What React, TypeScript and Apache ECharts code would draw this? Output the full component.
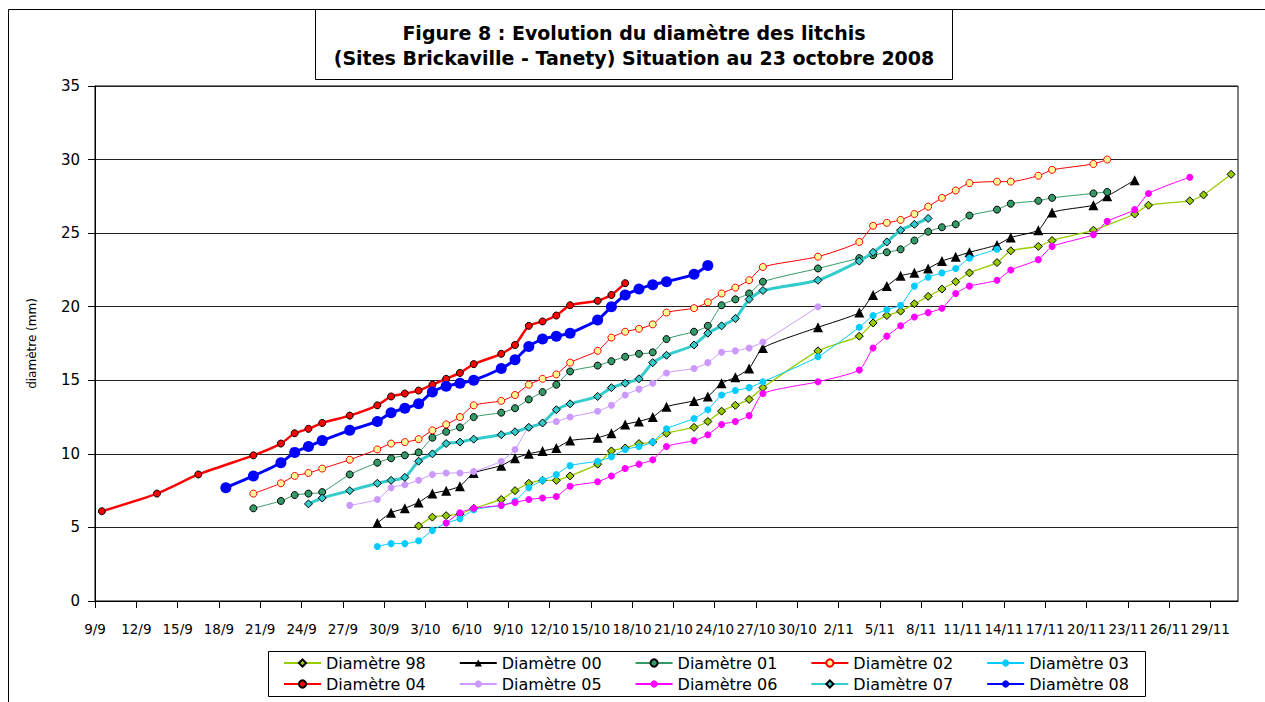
import React, { useEffect, useRef } from "react";
import * as echarts from "echarts";

// ---- data: [date (d/m, 2008), diameter in mm] ----
const d98: [string, number][] = [["2/10",5.1],["3/10",5.7],["4/10",5.8],["5/10",5.9],["6/10",6.3],["8/10",6.9],["9/10",7.5],["10/10",8.0],["11/10",8.2],["12/10",8.2],["13/10",8.5],["15/10",9.3],["16/10",10.2],["17/10",10.4],["18/10",10.7],["19/10",10.8],["20/10",11.4],["22/10",11.8],["23/10",12.2],["24/10",12.9],["25/10",13.3],["26/10",13.7],["27/10",14.5],["31/10",17.0],["3/11",18.0],["4/11",18.9],["5/11",19.4],["6/11",19.7],["7/11",20.2],["8/11",20.7],["9/11",21.2],["10/11",21.7],["11/11",22.3],["13/11",23.0],["14/11",23.8],["16/11",24.1],["17/11",24.5],["20/11",25.2],["23/11",26.3],["24/11",26.9],["27/11",27.2],["28/11",27.6],["30/11",29.0]];
const d00: [string, number][] = [["29/9",5.3],["30/9",6.0],["1/10",6.3],["2/10",6.7],["3/10",7.3],["4/10",7.5],["5/10",7.8],["6/10",8.7],["8/10",9.2],["9/10",9.7],["10/10",10.0],["11/10",10.2],["12/10",10.4],["13/10",10.9],["15/10",11.1],["16/10",11.4],["17/10",12.0],["18/10",12.2],["19/10",12.5],["20/10",13.2],["22/10",13.6],["23/10",13.9],["24/10",14.8],["25/10",15.2],["26/10",15.8],["27/10",17.2],["31/10",18.6],["3/11",19.6],["4/11",20.8],["5/11",21.4],["6/11",22.1],["7/11",22.3],["8/11",22.6],["9/11",23.1],["10/11",23.4],["11/11",23.7],["13/11",24.2],["14/11",24.7],["16/11",25.2],["17/11",26.4],["20/11",26.9],["21/11",27.5],["23/11",28.6]];
const d01: [string, number][] = [["20/9",6.3],["22/9",6.8],["23/9",7.2],["24/9",7.3],["25/9",7.4],["27/9",8.6],["29/9",9.4],["30/9",9.7],["1/10",9.9],["2/10",10.1],["3/10",11.1],["4/10",11.5],["5/10",11.8],["6/10",12.5],["8/10",12.8],["9/10",13.1],["10/10",13.7],["11/10",14.2],["12/10",14.7],["13/10",15.6],["15/10",16.0],["16/10",16.3],["17/10",16.6],["18/10",16.8],["19/10",16.9],["20/10",17.8],["22/10",18.3],["23/10",18.7],["24/10",20.1],["25/10",20.5],["26/10",20.9],["27/10",21.7],["31/10",22.6],["3/11",23.3],["4/11",23.5],["5/11",23.7],["6/11",23.9],["7/11",24.5],["8/11",25.1],["9/11",25.4],["10/11",25.6],["11/11",26.2],["13/11",26.6],["14/11",27.0],["16/11",27.2],["17/11",27.4],["20/11",27.7],["21/11",27.8]];
const d02: [string, number][] = [["20/9",7.3],["22/9",8.0],["23/9",8.5],["24/9",8.7],["25/9",9.0],["27/9",9.6],["29/9",10.3],["30/9",10.7],["1/10",10.8],["2/10",11.0],["3/10",11.6],["4/10",12.0],["5/10",12.5],["6/10",13.3],["8/10",13.6],["9/10",14.0],["10/10",14.7],["11/10",15.1],["12/10",15.4],["13/10",16.2],["15/10",17.0],["16/10",17.9],["17/10",18.3],["18/10",18.5],["19/10",18.8],["20/10",19.6],["22/10",19.9],["23/10",20.3],["24/10",20.9],["25/10",21.3],["26/10",21.8],["27/10",22.7],["31/10",23.4],["3/11",24.4],["4/11",25.5],["5/11",25.7],["6/11",25.9],["7/11",26.3],["8/11",26.8],["9/11",27.4],["10/11",27.9],["11/11",28.4],["13/11",28.5],["14/11",28.5],["16/11",28.9],["17/11",29.3],["20/11",29.7],["21/11",30.0]];
const d03: [string, number][] = [["29/9",3.7],["30/9",3.9],["1/10",3.9],["2/10",4.1],["3/10",4.8],["4/10",5.3],["5/10",5.6],["6/10",6.2],["8/10",6.5],["9/10",6.8],["10/10",7.7],["11/10",8.2],["12/10",8.6],["13/10",9.2],["15/10",9.5],["16/10",9.8],["17/10",10.3],["18/10",10.5],["19/10",10.8],["20/10",11.7],["22/10",12.4],["23/10",13.0],["24/10",14.0],["25/10",14.3],["26/10",14.5],["27/10",14.9],["31/10",16.6],["3/11",18.6],["4/11",19.4],["5/11",19.8],["6/11",20.1],["7/11",21.4],["8/11",22.0],["9/11",22.3],["10/11",22.6],["11/11",23.3],["13/11",23.9]];
const d04: [string, number][] = [["9/9",6.1],["13/9",7.3],["16/9",8.6],["20/9",9.9],["22/9",10.7],["23/9",11.4],["24/9",11.7],["25/9",12.1],["27/9",12.6],["29/9",13.3],["30/9",13.9],["1/10",14.1],["2/10",14.3],["3/10",14.7],["4/10",15.1],["5/10",15.5],["6/10",16.1],["8/10",16.8],["9/10",17.4],["10/10",18.7],["11/10",19.0],["12/10",19.4],["13/10",20.1],["15/10",20.4],["16/10",20.8],["17/10",21.6]];
const d05: [string, number][] = [["27/9",6.5],["29/9",6.9],["30/9",7.7],["1/10",7.9],["2/10",8.2],["3/10",8.6],["4/10",8.7],["5/10",8.7],["6/10",8.8],["8/10",9.5],["9/10",10.3],["10/10",11.8],["11/10",12.1],["12/10",12.2],["13/10",12.5],["15/10",12.9],["16/10",13.3],["17/10",14.0],["18/10",14.4],["19/10",14.8],["20/10",15.5],["22/10",15.8],["23/10",16.2],["24/10",16.9],["25/10",17.0],["26/10",17.2],["27/10",17.6],["31/10",20.0]];
const d06: [string, number][] = [["4/10",5.3],["5/10",6.0],["6/10",6.3],["8/10",6.5],["9/10",6.7],["10/10",6.9],["11/10",7.0],["12/10",7.1],["13/10",7.8],["15/10",8.1],["16/10",8.5],["17/10",9.0],["18/10",9.3],["19/10",9.6],["20/10",10.5],["22/10",10.9],["23/10",11.3],["24/10",12.0],["25/10",12.2],["26/10",12.6],["27/10",14.1],["31/10",14.9],["3/11",15.7],["4/11",17.2],["5/11",18.0],["6/11",18.7],["7/11",19.3],["8/11",19.6],["9/11",19.9],["10/11",20.9],["11/11",21.4],["13/11",21.8],["14/11",22.5],["16/11",23.2],["17/11",24.1],["20/11",24.9],["21/11",25.8],["23/11",26.6],["24/11",27.7],["27/11",28.8]];
const d07: [string, number][] = [["24/9",6.6],["25/9",7.0],["27/9",7.5],["29/9",8.0],["30/9",8.2],["1/10",8.4],["2/10",9.5],["3/10",10.0],["4/10",10.7],["5/10",10.8],["6/10",11.0],["8/10",11.3],["9/10",11.5],["10/10",11.8],["11/10",12.1],["12/10",13.0],["13/10",13.4],["15/10",13.9],["16/10",14.5],["17/10",14.8],["18/10",15.1],["19/10",16.2],["20/10",16.7],["22/10",17.4],["23/10",18.2],["24/10",18.7],["25/10",19.2],["26/10",20.5],["27/10",21.1],["31/10",21.8],["3/11",23.1],["4/11",23.7],["5/11",24.4],["6/11",25.2],["7/11",25.6],["8/11",26.0]];
const d08: [string, number][] = [["18/9",7.7],["20/9",8.5],["22/9",9.4],["23/9",10.1],["24/9",10.5],["25/9",10.9],["27/9",11.6],["29/9",12.2],["30/9",12.8],["1/10",13.1],["2/10",13.4],["3/10",14.2],["4/10",14.6],["5/10",14.8],["6/10",15.0],["8/10",15.8],["9/10",16.4],["10/10",17.3],["11/10",17.8],["12/10",18.0],["13/10",18.2],["15/10",19.1],["16/10",20.0],["17/10",20.8],["18/10",21.2],["19/10",21.5],["20/10",21.7],["22/10",22.2],["23/10",22.8]];

const seriesNames = ["Diamètre 98","Diamètre 00","Diamètre 01","Diamètre 02","Diamètre 03","Diamètre 04","Diamètre 05","Diamètre 06","Diamètre 07","Diamètre 08"];
const seriesData = [d98, d00, d01, d02, d03, d04, d05, d06, d07, d08];
const yTicks = { min: 0, max: 35, step: 5 };
const xStart = "9/9";
const xEndDays = 83;
const xStepDays = 3;

// ---- styles ----
const styles = [
  { line: "#99CC00", width: 1.3, symbol: "diamond", size: 8, fill: "#99CC00", border: "#000", bw: 1 },
  { line: "#000000", width: 1, symbol: "triangle", size: 10, fill: "#000000", border: "#000", bw: 0 },
  { line: "#339966", width: 1, symbol: "circle", size: 7, fill: "#339966", border: "#000", bw: 1 },
  { line: "#FF0000", width: 1, symbol: "circle", size: 7, fill: "#FFFF99", border: "#FF0000", bw: 1 },
  { line: "#00CCFF", width: 1, symbol: "circle", size: 7, fill: "#00CCFF", border: "#00CCFF", bw: 0 },
  { line: "#FF0000", width: 2.5, symbol: "circle", size: 7, fill: "#FF0000", border: "#000", bw: 1 },
  { line: "#CC99FF", width: 1, symbol: "circle", size: 7, fill: "#CC99FF", border: "#CC99FF", bw: 0 },
  { line: "#FF00FF", width: 1, symbol: "circle", size: 7, fill: "#FF00FF", border: "#FF00FF", bw: 0 },
  { line: "#33CCCC", width: 3, symbol: "diamond", size: 8, fill: "#33CCCC", border: "#000", bw: 1 },
  { line: "#0000FF", width: 3, symbol: "circle", size: 11, fill: "#0000FF", border: "#0000FF", bw: 0 },
];

const FONT = '"DejaVu Sans", Verdana, sans-serif';
const DAY_MS = 86400000;
const parseDay = (s: string) => {
  const [d, m] = s.split("/").map(Number);
  return Date.UTC(2008, m - 1, d);
};
const DAY0 = parseDay(xStart);
const dayOf = (s: string) => Math.round((parseDay(s) - DAY0) / DAY_MS);
const fmtDay = (v: number) => {
  const dt = new Date(DAY0 + v * DAY_MS);
  return `${dt.getUTCDate()}/${dt.getUTCMonth() + 1}`;
};

export default function App() {
  const ref = useRef<HTMLDivElement>(null);
  useEffect(() => {
    if (!ref.current) return;
    const chart = echarts.init(ref.current, undefined, { renderer: "svg" });
    const series = seriesData.map((pts, i) => {
      const st = styles[i];
      return {
        name: seriesNames[i],
        type: "line",
        smooth: 0.2,
        data: pts.map(([d, v]) => [dayOf(d) + 0.5, v]),
        symbol: st.symbol,
        symbolSize: st.size,
        showSymbol: true,
        lineStyle: { color: st.line, width: st.width },
        itemStyle: { color: st.fill, borderColor: st.border, borderWidth: st.bw },
        emphasis: { disabled: true },
        z: 2 + i,
      };
    });
    const legendBase = {
      left: 283,
      padding: 0,
      itemWidth: 37,
      itemHeight: 9,
      itemGap: 33,
      selectedMode: false,
      textStyle: { fontFamily: FONT, fontSize: 16, color: "#000" },
    };
    chart.setOption({
      animation: false,
      backgroundColor: "#fff",
      grid: { left: 95, top: 86, right: 27, bottom: 101, show: true, borderColor: "#000", borderWidth: 1, containLabel: false, outerBoundsMode: "none" },
      legend: [
        { ...legendBase, top: 655, data: seriesNames.slice(0, 5) },
        { ...legendBase, top: 676, data: seriesNames.slice(5) },
      ],
      xAxis: {
        type: "value",
        min: 0,
        max: xEndDays,
        interval: xStepDays,
        axisLine: { show: true, lineStyle: { color: "#000", width: 1 } },
        axisTick: { show: true, length: 7, lineStyle: { color: "#000" } },
        splitLine: { show: false },
        axisLabel: {
          fontFamily: FONT,
          fontSize: 13.5,
          color: "#000",
          margin: 21,
          showMaxLabel: false,
          formatter: (v: number) => (v % xStepDays === 0 && v < xEndDays ? fmtDay(v) : ""),
        },
      },
      yAxis: {
        type: "value",
        min: yTicks.min,
        max: yTicks.max,
        interval: yTicks.step,
        name: "diamètre (mm)",
        nameLocation: "middle",
        nameGap: 57,
        nameTextStyle: { fontFamily: FONT, fontSize: 12, color: "#000" },
        axisLine: { show: true, lineStyle: { color: "#000", width: 1 } },
        axisTick: { show: true, length: 7, lineStyle: { color: "#000" } },
        splitLine: { show: true, lineStyle: { color: "#222", width: 1 } },
        axisLabel: { fontFamily: FONT, fontSize: 15, color: "#000", margin: 15 },
      },
      graphic: [
        { type: "rect", z: -10, shape: { x: 8.5, y: 9.5, width: 1400, height: 900 }, style: { fill: "none", stroke: "#000", lineWidth: 1 } },
        { type: "rect", z: 10, shape: { x: 315.5, y: 9.5, width: 637, height: 70 }, style: { fill: "#fff", stroke: "#000", lineWidth: 1 } },
        { type: "text", z: 11, x: 634, y: 33, style: { text: "Figure 8 : Evolution du diamètre des litchis", fontFamily: FONT, fontWeight: "bold", fontSize: 19, fill: "#000", align: "center", verticalAlign: "middle" } },
        { type: "text", z: 11, x: 634, y: 58, style: { text: "(Sites Brickaville - Tanety) Situation au 23 octobre 2008", fontFamily: FONT, fontWeight: "bold", fontSize: 19, fill: "#000", align: "center", verticalAlign: "middle" } },
        { type: "rect", z: -5, shape: { x: 268.5, y: 651.5, width: 877, height: 45 }, style: { fill: "#fff", stroke: "#000", lineWidth: 1 } },
      ],
      series,
    });
    return () => chart.dispose();
  }, []);
  return <div ref={ref} style={{ position: "fixed", left: 0, top: 0, width: 1265, height: 702 }} />;
}
